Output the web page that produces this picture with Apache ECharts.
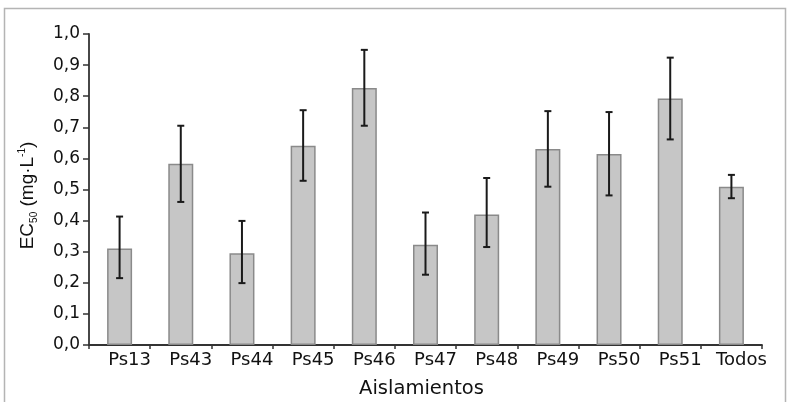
<!DOCTYPE html>
<html>
<head>
<meta charset="utf-8">
<script src="https://cdn.jsdelivr.net/npm/echarts@6/dist/echarts.min.js"></script>
<style>
html,body{margin:0;padding:0;background:#fff;}
#c{width:791px;height:402px;}
</style>
</head>
<body>
<div id="c"></div>
<script>
var categories = ['Ps13','Ps43','Ps44','Ps45','Ps46','Ps47','Ps48','Ps49','Ps50','Ps51','Todos'];
var means   = [0.310, 0.583, 0.295, 0.641, 0.826, 0.322, 0.420, 0.630, 0.614, 0.793, 0.509];
var errLow  = [0.215, 0.460, 0.199, 0.528, 0.705, 0.226, 0.315, 0.509, 0.481, 0.661, 0.472];
var errHigh = [0.413, 0.705, 0.399, 0.755, 0.949, 0.426, 0.537, 0.752, 0.749, 0.924, 0.547];
var yTicks = [0,0.1,0.2,0.3,0.4,0.5,0.6,0.7,0.8,0.9,1.0];

var errData = categories.map(function(c,i){ return [i, errLow[i], errHigh[i]]; });

var chart = echarts.init(document.getElementById('c'), null, {renderer:'canvas'});
chart.setOption({
  animation:false,
  backgroundColor:'#fff',
  graphic:[{
    type:'rect', silent:true, z:-10,
    shape:{x:4.5,y:8.5,width:781,height:400},
    style:{fill:'none',stroke:'#b4b4b4',lineWidth:1.5}
  }],
  grid:{left:89,right:29,top:34,bottom:57,containLabel:false,outerBoundsMode:'none'},
  xAxis:{
    type:'category',
    data:categories,
    boundaryGap:true,
    axisLine:{lineStyle:{color:'#333',width:1.8}},
    axisTick:{show:true,alignWithLabel:false,length:4,lineStyle:{color:'#333',width:1.5}},
    axisLabel:{color:'#111',fontFamily:'DejaVu Sans',fontSize:18,margin:6,interval:0,padding:[0,0,0,20]},
    name:'Aislamientos',
    nameLocation:'middle',
    nameGap:34,
    nameTextStyle:{color:'#111',fontFamily:'DejaVu Sans',fontSize:19.5,padding:[0,8,0,0]}
  },
  yAxis:{
    type:'value',
    min:0,max:1,interval:0.1,
    splitLine:{show:false},
    axisLine:{show:true,lineStyle:{color:'#333',width:1.8}},
    axisTick:{show:true,length:6,lineStyle:{color:'#333',width:1.5}},
    axisLabel:{color:'#111',fontFamily:'DejaVu Sans',fontSize:17,margin:9,
      formatter:function(v){
        var t = yTicks.reduce(function(a,b){return Math.abs(b-v)<Math.abs(a-v)?b:a;});
        return t.toFixed(1).replace('.',',');
      }},
    name:'EC{sub|50} (mg·L{sup|-1})',
    nameLocation:'middle',
    nameGap:50,
    nameRotate:90,
    nameTextStyle:{
      color:'#111',fontFamily:'Liberation Sans',fontSize:19,lineHeight:22,padding:[0,12,0,0],
      rich:{
        sub:{fontFamily:'Liberation Sans',fontSize:10,verticalAlign:'bottom',lineHeight:22,color:'#111',padding:[6,0,0,0]},
        sup:{fontFamily:'Liberation Sans',fontSize:10,verticalAlign:'top',lineHeight:22,color:'#111'}
      }
    }
  },
  series:[
    {
      type:'bar',
      data:means,
      barWidth:25,
      itemStyle:{color:'#c6c6c6',borderColor:'#8a8a8a',borderWidth:1.5},
      z:2
    },
    {
      type:'custom',
      data:errData,
      z:5,
      renderItem:function(params,api){
        var x = api.value(0);
        var lo = api.coord([x, api.value(1)]);
        var hi = api.coord([x, api.value(2)]);
        var hw = 3.5;
        var st = {stroke:'#1a1a1a',lineWidth:2};
        return {type:'group',children:[
          {type:'line',shape:{x1:lo[0],y1:lo[1],x2:hi[0],y2:hi[1]},style:st},
          {type:'line',shape:{x1:lo[0]-hw,y1:lo[1],x2:lo[0]+hw,y2:lo[1]},style:st},
          {type:'line',shape:{x1:hi[0]-hw,y1:hi[1],x2:hi[0]+hw,y2:hi[1]},style:st}
        ]};
      }
    }
  ]
});
</script>
</body>
</html>
